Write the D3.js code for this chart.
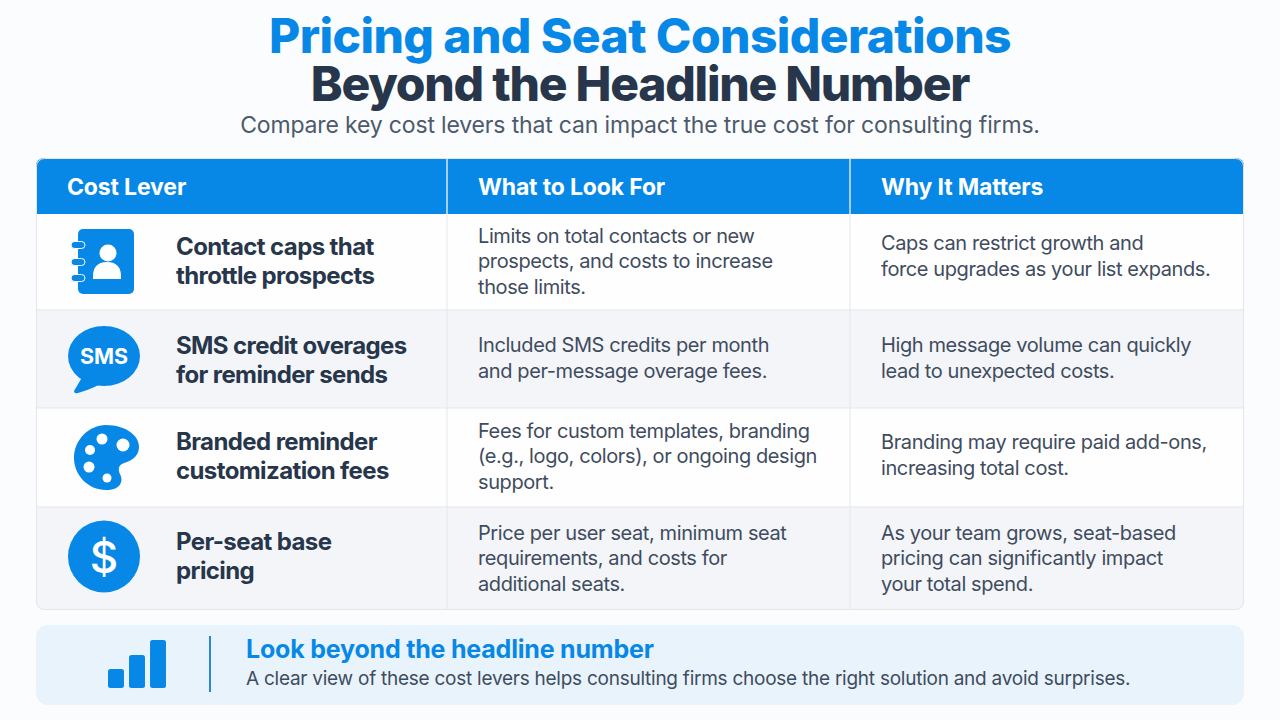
<!DOCTYPE html>
<html>
<head>
<meta charset="utf-8">
<script src="https://cdn.jsdelivr.net/npm/d3@7"></script>
<style>
html, body { margin: 0; padding: 0; background: #fbfcfd; }
svg { display: block; font-family: Inter, "Noto Sans", sans-serif; }
</style>
</head>
<body>
<svg id="chart"></svg>
<script>
const titleLines = ['Pricing and Seat Considerations', 'Beyond the Headline Number']
const subtitle = 'Compare key cost levers that can impact the true cost for consulting firms.'
const columns = ['Cost Lever', 'What to Look For', 'Why It Matters']
const levers = [
    ['Contact caps that', 'throttle prospects'],
    ['SMS credit overages', 'for reminder sends'],
    ['Branded reminder', 'customization fees'],
    ['Per-seat base', 'pricing']
]
const lookFor = [
    ['Limits on total contacts or new', 'prospects, and costs to increase', 'those limits.'],
    ['Included SMS credits per month', 'and per-message overage fees.'],
    ['Fees for custom templates, branding', '(e.g., logo, colors), or ongoing design', 'support.'],
    ['Price per user seat, minimum seat', 'requirements, and costs for', 'additional seats.']
]
const whyMatters = [
    ['Caps can restrict growth and', 'force upgrades as your list expands.'],
    ['High message volume can quickly', 'lead to unexpected costs.'],
    ['Branding may require paid add-ons,', 'increasing total cost.'],
    ['As your team grows, seat-based', 'pricing can significantly impact', 'your total spend.']
]
const calloutTitle = 'Look beyond the headline number'
const calloutText = 'A clear view of these cost levers helps consulting firms choose the right solution and avoid surprises.'
const calloutBars = [19, 33, 48]

const blue = '#0788e6'
const navy = '#27364b'
const ink = '#3f4c5e'

buildChart()

function buildChart() {

    const svg = d3.select('#chart').attr('width', 1280).attr('height', 720)

    const left = 36, right = 1244, headTop = 158, headBottom = 214
    const colEdges = [left, 447, 850, right]
    const rowEdges = [214, 310, 408, 507, 610]
    const leverText = [261, 360, 456, 556]
    const rowText = [261, 358, 456, 558]
    const whyText = [256, 358, 455, 558]

    // rows are not quite even so the scale maps index -> edge
    const y = d3.scaleLinear().domain(d3.range(rowEdges.length)).range(rowEdges)

    const defs = svg.append('defs')
    defs.append('clipPath').attr('id', 'tableClip')
        .append('rect').attr('x', left).attr('y', headTop)
        .attr('width', right - left).attr('height', 610 - headTop).attr('rx', 8)

    svg.append('rect').attr('width', 1280).attr('height', 720).style('fill', '#fbfcfd')

    svg.selectAll('.title').data(titleLines).join('text')
        .attr('x', 640).attr('y', (d, i) => 53 + i * 47.5)
        .attr('text-anchor', 'middle')
        .style('font-size', '48px').style('font-weight', 800)
        .style('letter-spacing', (d, i) => i ? '-1.25px' : '-.6px')
        .style('fill', (d, i) => i ? navy : blue)
        .text(d => d)

    svg.append('text').attr('x', 640).attr('y', 133)
        .attr('text-anchor', 'middle')
        .style('font-size', '23px').style('letter-spacing', '-.16px').style('fill', '#4d5a6c')
        .text(subtitle)

    const table = svg.append('g').attr('clip-path', 'url(#tableClip)')

    table.selectAll('.row').data(levers).join('rect')
        .attr('x', left).attr('width', right - left)
        .attr('y', (d, i) => y(i)).attr('height', (d, i) => y(i + 1) - y(i))
        .style('fill', (d, i) => i % 2 ? '#f3f5f9' : '#fefefe')

    table.append('rect').attr('x', left).attr('y', headTop)
        .attr('width', right - left).attr('height', headBottom - headTop)
        .style('fill', blue)

    // row and column rules
    table.selectAll('.rowRule').data(rowEdges.slice(1, -1)).join('line')
        .attr('x1', left).attr('x2', right).attr('y1', d => d).attr('y2', d => d)
        .style('stroke', '#e3e7ed')
    table.selectAll('.colRule').data(colEdges.slice(1, -1)).join('line')
        .attr('x1', d => d).attr('x2', d => d).attr('y1', headTop).attr('y2', 610)
        .style('stroke', (d) => '#e3e7ed')
    table.selectAll('.colRuleHead').data(colEdges.slice(1, -1)).join('line')
        .attr('x1', d => d).attr('x2', d => d).attr('y1', headTop).attr('y2', headBottom)
        .style('stroke', '#cfe6fb')

    svg.append('rect').attr('x', left + .5).attr('y', headTop + .5)
        .attr('width', right - left - 1).attr('height', 610 - headTop - 1).attr('rx', 8)
        .style('fill', 'none').style('stroke', '#e3e7ed')

    const headX = [67, 478, 881]
    svg.selectAll('.head').data(columns).join('text')
        .attr('x', (d, i) => headX[i]).attr('y', 195)
        .style('font-size', '23px').style('font-weight', 700).style('letter-spacing', '-.15px')
        .style('fill', '#fff').text(d => d)

    drawLines(levers, 176, leverText, 29, '24px', 700, navy, '-.6px')
    drawLines(lookFor, 478, rowText, 25.5, '20px', 400, ink, '-.4px')
    drawLines(whyMatters, 881, whyText, 25.5, '20px', 400, ink, '-.4px')

    function drawLines(rows, x, centers, leading, size, weight, fill, spacing) {
        rows.forEach((lines, r) => {
            svg.append('g').selectAll('text').data(lines).join('text')
                .attr('x', x)
                .attr('y', (d, i) => centers[r] + (i - (lines.length - 1) / 2) * leading + parseFloat(size) * .36)
                .style('font-size', size).style('font-weight', weight)
                .style('letter-spacing', spacing).style('fill', fill)
                .text(d => d)
        })
    }

    // icons
    const book = svg.append('g').attr('transform', 'translate(104,261)').style('fill', blue)
    book.append('rect').attr('x', -26).attr('y', -32).attr('width', 56).attr('height', 65).attr('rx', 5)
    book.selectAll('.ring').data([-16, 1, 17]).join('rect')
        .attr('x', -33).attr('y', d => d - 3.5).attr('width', 14).attr('height', 7).attr('rx', 3.5)
        .style('stroke', '#fff').style('stroke-width', 1)
    book.append('circle').attr('cx', 4).attr('cy', -8).attr('r', 8.5).style('fill', '#fff')
    book.append('path').style('fill', '#fff')
        .attr('d', 'M-11,18 Q-12,1 3,1 Q18,1 17,18 Z')

    const sms = svg.append('g').attr('transform', 'translate(104,359)')
    sms.append('ellipse').attr('rx', 36).attr('ry', 30).attr('cy', -3).style('fill', blue)
    sms.append('path').style('fill', blue).attr('d', 'M-20,15 L-30,32 Q-30,35 -26,34 Q-8,29 4,20 Z')
    sms.append('text').attr('text-anchor', 'middle').attr('y', 4.5)
        .style('font-size', '21.5px').style('font-weight', 700).style('fill', '#fff').text('SMS')

    const palette = svg.append('g').attr('transform', 'translate(106,458)')
    palette.append('path').style('fill', blue)
        .attr('d', 'M0,-33 C20,-33 34,-22 33,-10 C32,0 24,3 18,5 C12,7 12,12 14,16 C18,24 14,32 0,32 C-18,32 -32,17 -32,0 C-32,-18 -17,-33 0,-33 Z')
    const holes = [[-4, -19, 5.5], [-16, -8, 5], [-17, 9, 5.5], [1, 20, 4.5], [17, -13, 6.5]]
    palette.selectAll('circle').data(holes).join('circle')
        .attr('cx', d => d[0]).attr('cy', d => d[1]).attr('r', d => d[2]).style('fill', '#fff')

    const coin = svg.append('g').attr('transform', 'translate(104,556.5)')
    coin.append('circle').attr('r', 36).style('fill', blue)
    coin.append('text').attr('text-anchor', 'middle').attr('y', 16)
        .style('font-size', '44px').style('font-weight', 500).style('fill', '#fff').text('$')

    // callout
    svg.append('rect').attr('x', 36).attr('y', 625).attr('width', 1208).attr('height', 80).attr('rx', 12)
        .style('fill', '#e8f3fc')

    const barX = d3.scaleBand().domain(calloutBars).range([108, 166]).paddingInner(.24).paddingOuter(0)
    const barH = d3.scaleLinear().domain([0, 48]).range([0, 48])
    svg.selectAll('.cbar').data(calloutBars).join('rect')
        .attr('x', d => barX(d)).attr('width', barX.bandwidth())
        .attr('y', d => 688 - barH(d)).attr('height', d => barH(d)).attr('rx', 2.5)
        .style('fill', blue)

    svg.append('line').attr('x1', 210).attr('x2', 210).attr('y1', 636).attr('y2', 692)
        .style('stroke', '#2a86d8').style('stroke-width', 2)

    svg.append('text').attr('x', 246).attr('y', 658)
        .style('font-size', '25px').style('font-weight', 700).style('letter-spacing', '-.2px')
        .style('fill', blue).text(calloutTitle)
    svg.append('text').attr('x', 246).attr('y', 685)
        .style('font-size', '19px').style('letter-spacing', '-.25px').style('fill', ink).text(calloutText)
}
</script>
</body>
</html>
